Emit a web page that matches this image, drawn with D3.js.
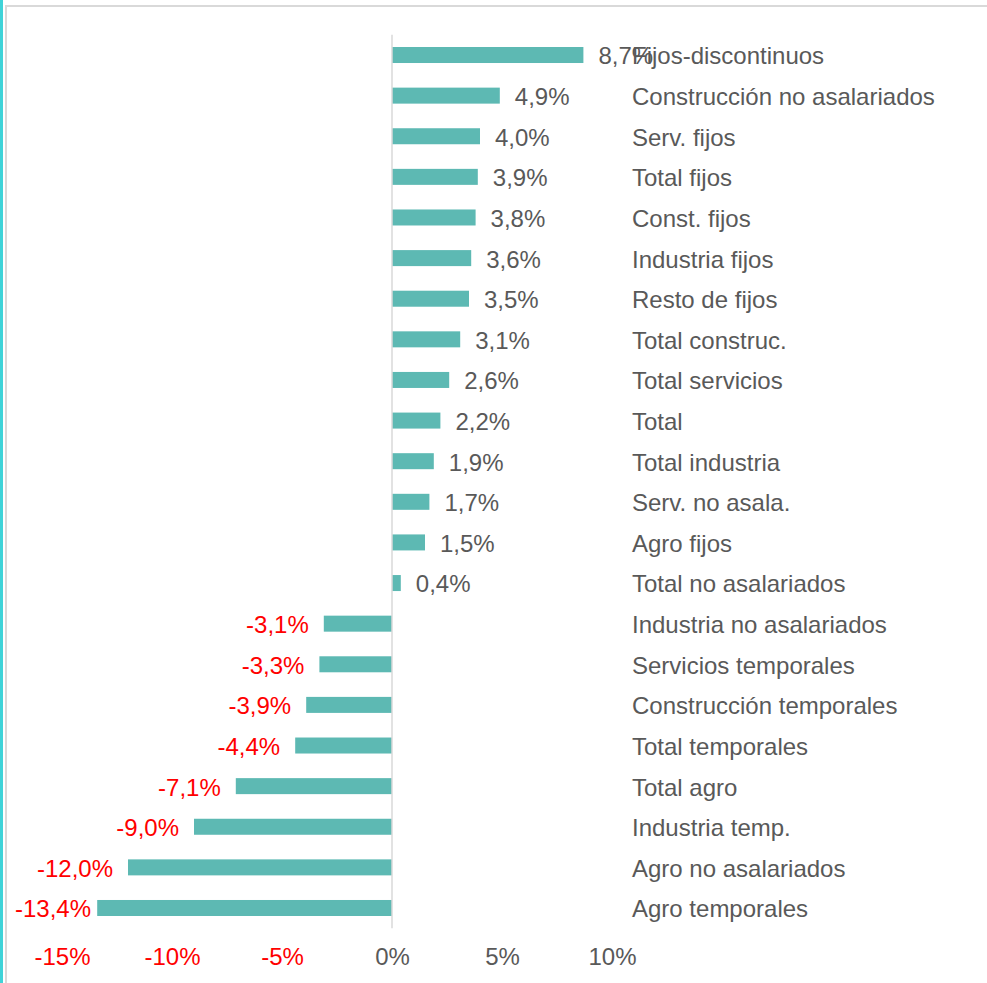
<!DOCTYPE html>
<html><head><meta charset="utf-8">
<script src="https://cdn.jsdelivr.net/npm/d3@7"></script>
<style>
html,body{margin:0;padding:0;background:#fff;}
svg{display:block;font-family:"Liberation Sans",Arial,sans-serif;}
</style></head>
<body>
<svg id="chart" width="987" height="983"></svg>
<script>
const categories = ["Fijos-discontinuos","Construcción no asalariados","Serv. fijos","Total fijos","Const. fijos","Industria fijos","Resto de fijos","Total construc.","Total servicios","Total","Total industria","Serv. no asala.","Agro fijos","Total no asalariados","Industria no asalariados","Servicios temporales","Construcción temporales","Total temporales","Total agro","Industria temp.","Agro no asalariados","Agro temporales"];
const values = [8.7,4.9,4.0,3.9,3.8,3.6,3.5,3.1,2.6,2.2,1.9,1.7,1.5,0.4,-3.1,-3.3,-3.9,-4.4,-7.1,-9.0,-12.0,-13.4];
const tickValues = [-15,-10,-5,0,5,10];

const svg = d3.select("#chart");
const fs = 24;
const grey = "#595959", red = "#ff0000", barColor = "#5db9b3";

// frame
svg.append("rect").attr("x",0).attr("y",0).attr("width",3).attr("height",983).attr("fill","#3fd3d8");
svg.append("line").attr("x1",6).attr("x2",6).attr("y1",5).attr("y2",983).attr("stroke","#d9d9d9").attr("stroke-width",2);
svg.append("line").attr("x1",5).attr("x2",987).attr("y1",6).attr("y2",6).attr("stroke","#d9d9d9").attr("stroke-width",2);

const x = d3.scaleLinear().domain([-15,10]).range([62,612]);
const y = d3.scaleBand().domain(categories).range([34.7,928.3]).paddingInner(0.606).paddingOuter(0.303);

const data = categories.map((c,i)=>({c, v: values[i]}));

svg.append("g").selectAll("rect").data(data).join("rect")
  .attr("x", d=>x(Math.min(0,d.v)))
  .attr("width", d=>Math.abs(x(d.v)-x(0)))
  .attr("y", d=>y(d.c))
  .attr("height", y.bandwidth())
  .attr("fill", barColor);

// zero line
svg.append("line").attr("x1",x(0)).attr("x2",x(0)).attr("y1",y.range()[0]).attr("y2",y.range()[1])
  .attr("stroke","#d9d9d9").attr("stroke-width",1.5);

const fmt = v => d3.format(".1f")(v).replace(".",",").replace("−","-") + "%";

// value labels
const vl = svg.append("g").attr("font-size",fs);
vl.selectAll("text").data(data).join("text")
  .attr("y", d=>y(d.c)+y.bandwidth()/2+1)
  .attr("dy","0.35em")
  .attr("fill", d=>d.v<0?red:grey)
  .text(d=>fmt(d.v))
  .each(function(d){
    const t = d3.select(this);
    if(d.v>=0){ t.attr("x", x(d.v)+15).attr("text-anchor","start"); }
    else {
      const w = this.getComputedTextLength();
      let end = x(d.v)-15;
      if(end - w < 15) end = 15 + w;
      t.attr("x", end).attr("text-anchor","end");
    }
  });

// category labels
svg.append("g").attr("font-size",fs).selectAll("text").data(data).join("text")
  .attr("x",632).attr("y", d=>y(d.c)+y.bandwidth()/2+1).attr("dy","0.35em")
  .attr("fill",grey).text(d=>d.c);

// x axis
const ax = svg.append("g").attr("transform","translate(0,940)")
  .call(d3.axisBottom(x).tickValues(tickValues).tickSize(0).tickPadding(0).tickFormat(d=>d+"%"));
ax.select(".domain").remove();
ax.selectAll("text").attr("font-size",fs).attr("font-family","Liberation Sans, Arial, sans-serif")
  .attr("dy","0.71em").attr("y",8)
  .attr("fill", d=>d<0?red:grey);
</script>
</body></html>
